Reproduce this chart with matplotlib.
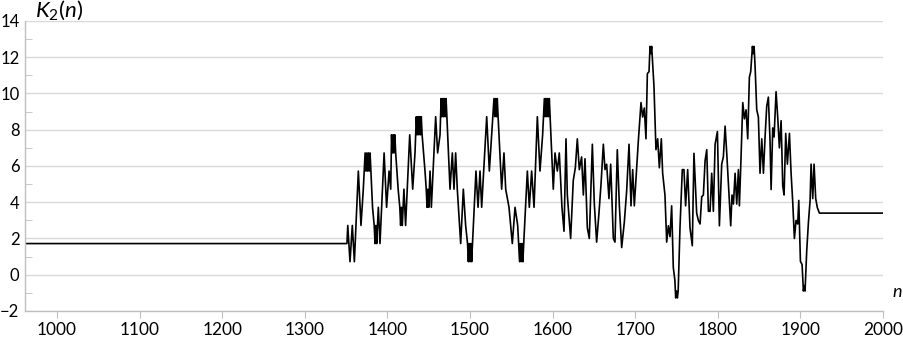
import matplotlib.pyplot as plt
from matplotlib.ticker import MultipleLocator

plt.rcParams["font.family"] = ["Lato", "DejaVu Sans"]
plt.rcParams["mathtext.fontset"] = "custom"
plt.rcParams["mathtext.rm"] = "Lato"
plt.rcParams["mathtext.it"] = "Lato:italic"

# n and K2(n)
n_vals = [
    960, 1351, 1352, 1354.7, 1357.5, 1360, 1364.8, 1368, 1370.8,
    1373, 1374, 1375, 1376, 1377, 1378, 1379, 1382,
    1384, 1385, 1386, 1387, 1389, 1391, 1396, 1399, 1402, 1404,
    1405, 1406, 1407, 1408, 1409, 1410, 1413,
    1415, 1416, 1417, 1418, 1419, 1420, 1422, 1427, 1430.6, 1433.4,
    1435, 1436, 1437, 1438, 1439, 1440, 1441, 1442, 1445.5,
    1447, 1448, 1449, 1450, 1451.6, 1453.2, 1458.4, 1460.8, 1463.7,
    1465, 1466, 1467, 1468, 1469, 1470, 1471, 1472, 1475.8, 1478.6,
    1480.6, 1482.6, 1484.6, 1488.7, 1491.9, 1494.7,
    1497, 1498, 1499, 1500, 1501, 1502, 1503, 1507.2, 1509.7, 1512.1,
    1514.1, 1520.2, 1523.4, 1526.2,
    1529, 1530, 1531, 1532, 1533, 1534, 1538.3, 1541.1, 1543.2, 1547.2,
    1551.2, 1554.5, 1557.7,
    1560, 1561, 1562, 1563, 1564, 1565, 1569.4, 1571.8, 1574.6, 1577.5,
    1581.5, 1584.7, 1587.9,
    1590, 1591, 1592, 1593, 1594, 1595, 1596, 1600.8, 1602.9, 1605.7,
    1608.1, 1611.3, 1613.8, 1616.2, 1617.8, 1621.8, 1625, 1627.5, 1629.9,
    1632.3, 1635.1, 1637.2, 1639.2, 1642, 1644.4, 1648.1, 1650.5, 1653.3,
    1656.1, 1658.6, 1661.4, 1663.4, 1665.4, 1668.2, 1670.3, 1673.5, 1675.5,
    1678.3, 1680.8, 1683.6, 1686.8, 1689.6, 1692.5, 1694.9, 1696.9, 1698.9,
    1701.7, 1703.8, 1707, 1709, 1711, 1713, 1714.7, 1716.7,
    1717.9, 1718.9, 1719.9, 1722.7, 1725.1, 1727.2, 1729.2, 1731.6, 1733.2,
    1736, 1738.1, 1740.1, 1742.1, 1744.1, 1746.1, 1748,
    1749, 1750, 1751, 1752, 1754.2, 1757, 1759, 1761, 1763.5, 1766.3,
    1769.1, 1771.1, 1774.4, 1776.4,
    1778.5, 1780.5, 1782.5, 1784.6, 1786.6, 1788.6, 1790.6, 1792.6, 1794.6,
    1796.7, 1799.5, 1801.9, 1804.7, 1806.7, 1808.8, 1810.8, 1812.8, 1815.6,
    1817.2, 1818.9, 1820.9, 1822.9, 1824.9, 1826.1, 1827.7, 1830.2, 1832.2,
    1834.2, 1836.2, 1838.2, 1839.8, 1841.9, 1842.9, 1843.9, 1845.1, 1847.1,
    1849.1, 1851.1, 1853.2, 1855.2, 1857.2, 1859.2, 1861.2, 1863.2, 1864.5,
    1866.5, 1868.1, 1870.5, 1872.5, 1874.5, 1876.6, 1878.6, 1880.2, 1882.2,
    1884.2, 1886.7, 1888.7, 1890.7, 1892.7, 1894.7, 1896.7, 1898, 1900,
    1902, 1903.6, 1904.6, 1905.6, 1907.6, 1909.7, 1911.7, 1912.9, 1914.9,
    1916.5, 1918.5, 1920.5, 1923, 2000,
]
k_vals = [
    1.72, 1.72, 2.72, 0.72, 2.72, 0.72, 5.72, 2.72, 4.72,
    6.72, 5.72, 6.72, 5.72, 6.72, 5.72, 6.72, 3.72,
    2.72, 1.72, 2.72, 1.72, 3.72, 1.72, 6.72, 3.72, 5.72, 4.72,
    7.72, 6.72, 7.72, 6.72, 7.72, 6.72, 4.72,
    3.72, 2.72, 3.72, 2.72, 3.72, 4.72, 2.72, 7.72, 4.72, 6.72,
    8.72, 7.72, 8.72, 7.72, 8.72, 7.72, 8.72, 7.72, 5.72,
    4.72, 3.72, 4.72, 3.72, 5.72, 3.72, 8.72, 6.72, 7.72,
    9.72, 8.72, 9.72, 8.72, 9.72, 8.72, 9.72, 8.72, 4.72, 6.72,
    4.72, 6.72, 4.72, 1.72, 4.72, 2.72,
    1.72, 0.72, 1.72, 0.72, 1.72, 0.72, 1.72, 5.72, 3.72, 5.72,
    3.72, 8.72, 5.72, 7.72,
    9.72, 8.72, 9.72, 8.72, 9.72, 8.72, 4.72, 6.72, 4.72, 3.72,
    1.72, 3.72, 2.72,
    0.72, 1.72, 0.72, 1.72, 0.72, 1.72, 5.72, 3.72, 5.72, 3.72,
    8.72, 5.72, 7.72,
    9.72, 8.72, 9.72, 8.72, 9.72, 8.72, 9.72, 4.72, 6.72, 5.72,
    6.72, 3.72, 2.4, 7.5, 4.4, 2.0, 5.2, 5.9, 7.5,
    5.8, 6.5, 4.4, 6.4, 2.6, 2.0, 7.2, 3.9, 1.8,
    3.4, 5.0, 7.2, 5.8, 6.1, 4.2, 6.1, 2.0, 1.8,
    6.9, 3.8, 1.5, 2.9, 4.6, 7.2, 3.8, 5.8, 3.8,
    5.9, 7.4, 9.5, 8.7, 9.2, 7.5, 11.1, 11.2,
    12.6, 12.2, 12.6, 10.4, 6.9, 7.5, 5.9, 7.5, 5.6,
    4.4, 1.8, 2.7, 2.1, 3.8, 0.4, -0.3,
    -1.28, -0.9, -1.28, -0.9, 2.6, 5.8, 5.8, 3.8, 5.8, 2.6,
    1.6, 6.7, 3.4, 3.0,
    2.8, 4.3, 4.4, 6.3, 6.9, 3.5, 3.5, 5.6, 3.5,
    7.2, 7.9, 2.7, 6.1, 6.5, 8.2, 6.7, 5.0, 2.7,
    4.4, 3.9, 5.6, 3.9, 5.8, 3.8, 5.9, 9.5, 8.6,
    9.1, 7.5, 10.9, 11.2, 12.6, 12.2, 12.6, 11.5, 9.1,
    8.7, 5.6, 7.5, 5.6, 7.6, 9.3, 9.8, 7.4, 4.7,
    8.1, 7.6, 10.1, 8.7, 7.0, 8.5, 4.9, 4.4, 7.8,
    6.1, 7.8, 5.6, 4.0, 2.0, 3.0, 2.8, 4.1, 0.74,
    0.56, -0.9, -0.6, -0.9, 1.3, 2.9, 4.1, 6.1, 4.2,
    6.1, 4.2, 3.7, 3.4, 3.4,
]

fig = plt.figure(figsize=(9.04, 3.37), dpi=100)
ax = fig.add_axes([0.0277, 0.0772, 0.9491, 0.8605])

ax.plot(n_vals, k_vals, color="black", linewidth=1.2)

ax.set_xlim(961.3, 2000)
ax.set_ylim(-2, 14)
ax.xaxis.set_major_locator(MultipleLocator(100))
ax.yaxis.set_major_locator(MultipleLocator(2))
ax.yaxis.set_minor_locator(MultipleLocator(1))
ax.grid(axis="y", which="major", color="#d9d9d9", linewidth=1)
ax.set_axisbelow(True)

for side in ["top", "right"]:
    ax.spines[side].set_visible(False)
for side in ["left", "bottom"]:
    ax.spines[side].set_color("#bfbfbf")
    ax.spines[side].set_linewidth(1)

ax.tick_params(axis="x", which="major", length=5, color="#bfbfbf", labelsize=12.4, pad=3)
ax.tick_params(axis="y", which="major", length=0, labelsize=12, pad=4)
ax.tick_params(axis="y", which="minor", direction="in", length=5, color="#bfbfbf")

ax.text(0.012, 0.995, "$K_2(n)$", transform=ax.transAxes, fontsize=16,
        ha="left", va="bottom")
ax.text(1.011, 0.065, "n", transform=ax.transAxes, fontsize=13,
        style="italic", ha="left", va="center")

fig.savefig("out.png", dpi=100)
